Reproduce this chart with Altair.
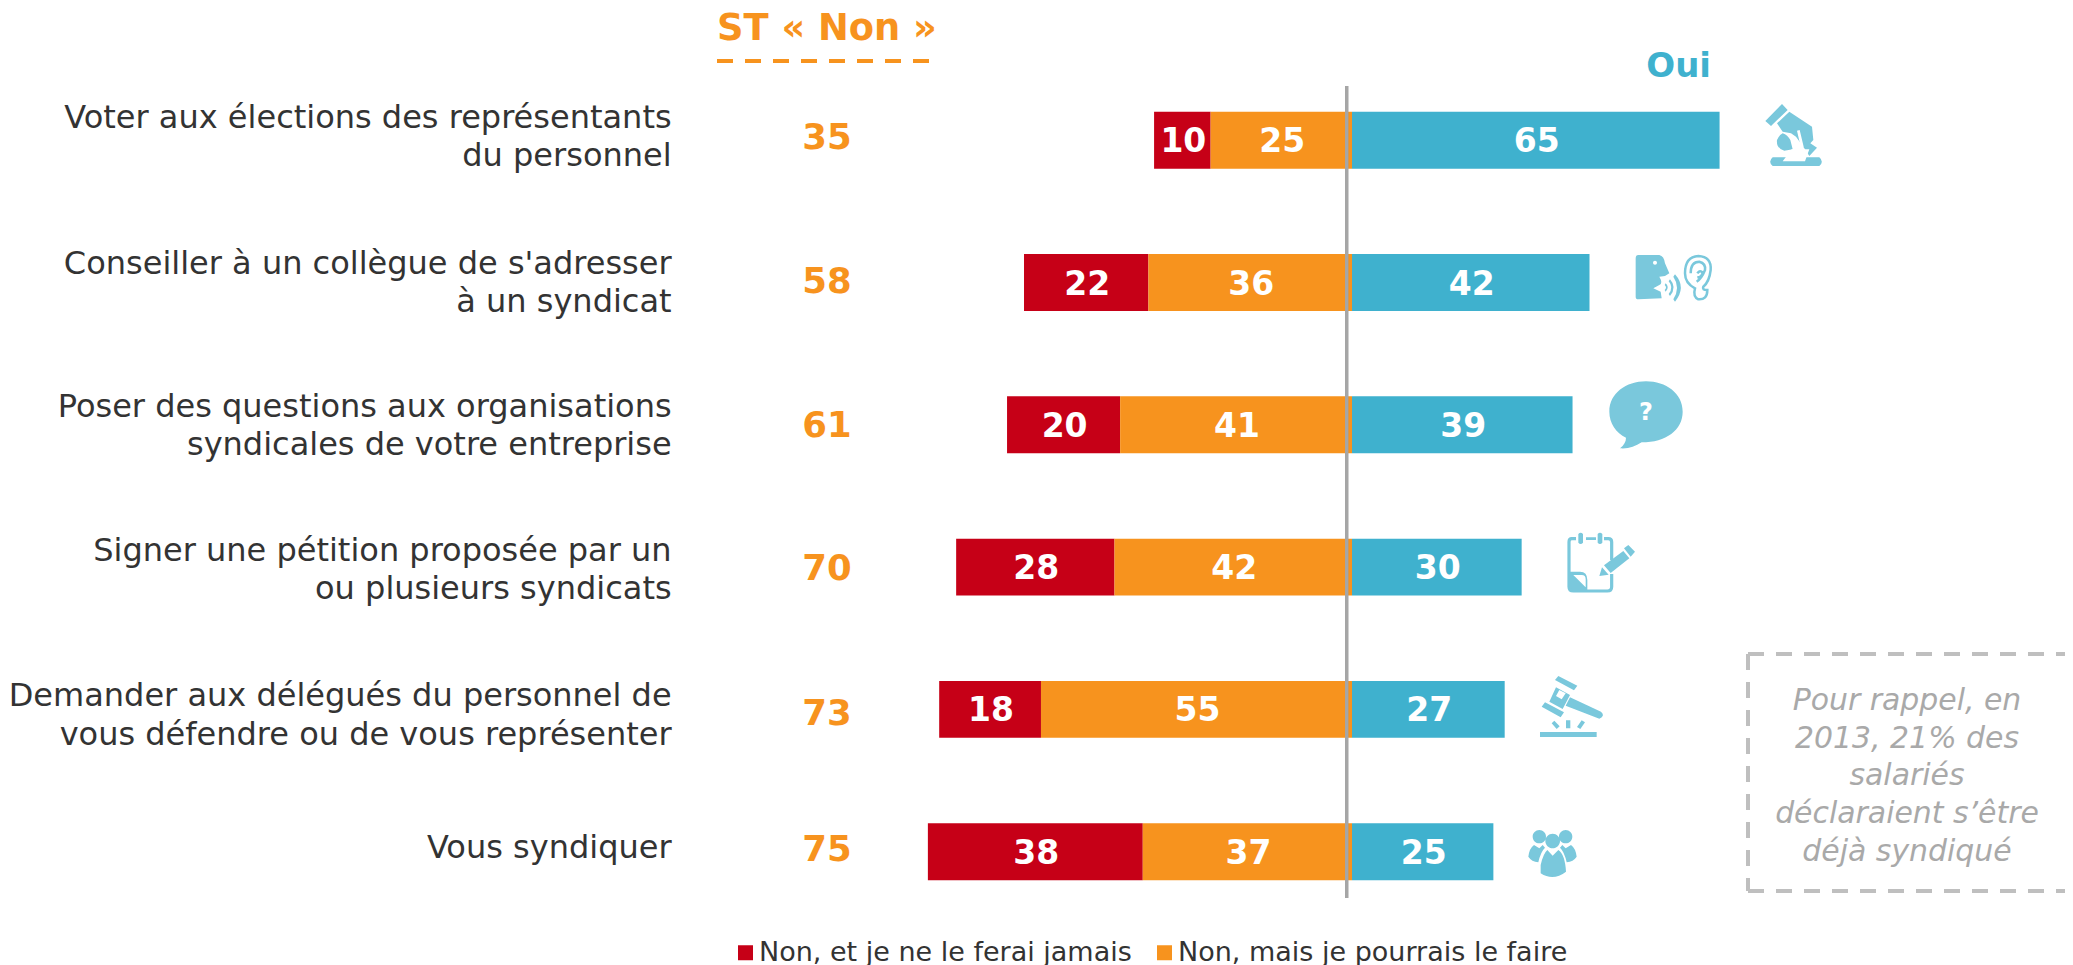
import re
import altair as alt
import pandas as pd

# ---------- data ----------
labels = [
    "Voter aux élections des représentants\ndu personnel",
    "Conseiller à un collègue de s'adresser\nà un syndicat",
    "Poser des questions aux organisations\nsyndicales de votre entreprise",
    "Signer une pétition proposée par un\nou plusieurs syndicats",
    "Demander aux délégués du personnel de\nvous défendre ou de vous représenter",
    "Vous syndiquer",
]
non_jamais = [10, 22, 20, 28, 18, 38]
non_pourrais = [25, 36, 41, 42, 55, 37]
oui = [65, 42, 39, 30, 27, 25]
st_non = [35, 58, 61, 70, 73, 75]
series_names = ["Non, et je ne le ferai jamais", "Non, mais je pourrais le faire", "Oui"]
note = ["Pour rappel, en", "2013, 21% des", "salariés", "déclaraient s’être", "déjà syndiqué"]

# ---------- style / layout ----------
RED, ORANGE, BLUE, ICON = "#C60017", "#F7931E", "#3FB1CE", "#7AC8DC"
GREY, TXT, BOXC, NOTEC = "#A6A6A6", "#333333", "#BFBFBF", "#A9A9A9"
FONT = "DejaVu Sans"
W, H = 2057, 957
X0, U = 1344.0, 5.655
RANGE_TOP, STEP = 61.05, 142.3
LABEL_DY = [-3.4, 0.3, 1.3, 2.8, 6.2, -3.3]
ST_DY = [-2, -1, 1, 2, 5, -2]
LINE_H = 38.5

rows = []
for i, lab in enumerate(labels):
    a, b, c = non_jamais[i], non_pourrais[i], oui[i]
    rows.append(dict(cat=lab, series=series_names[0], start=-(a + b), end=-b, value=a))
    rows.append(dict(cat=lab, series=series_names[1], start=-b, end=0, value=b))
    rows.append(dict(cat=lab, series=series_names[2], start=0, end=c, value=c))
long_df = pd.DataFrame(rows)
wide_df = pd.DataFrame(dict(cat=labels, oui=oui, st=st_non))

xs = alt.Scale(domain=[-X0 / U, (W - X0) / U])
X = lambda f: alt.X(f, scale=xs, axis=None)
Y = alt.Y("cat:N", axis=None, sort=None,
          scale=alt.Scale(type="band", domain=labels, range=[RANGE_TOP, RANGE_TOP + 6 * STEP],
                          paddingInner=0.6, paddingOuter=0.3))

layers = []

bars = alt.Chart(long_df).mark_bar().encode(
    x=X("start:Q"), x2="end:Q", y=Y,
    color=alt.Color("series:N", sort=None,
                    scale=alt.Scale(domain=series_names, range=[RED, ORANGE, BLUE]),
                    legend=alt.Legend(values=series_names[:2], orient="none", legendX=724, legendY=931,
                                      title=None, columns=2, columnPadding=19, symbolType="square",
                                      symbolSize=225, symbolStrokeWidth=0, labelFontSize=27, labelLimit=0,
                                      labelFont=FONT, labelColor=TXT, labelOffset=0, padding=0)),
)
layers.append(bars)

layers.append(alt.Chart(long_df).transform_calculate(mid="(datum.start+datum.end)/2").mark_text(
    font=FONT, fontWeight="bold", fontSize=33, color="white", baseline="middle", dy=2, dx=1).encode(
    x=X("mid:Q"), y=Y, text="value:Q"))

layers.append(alt.Chart(wide_df).mark_rule(color=GREY, strokeWidth=3).encode(
    x=alt.value(1338.6), y=alt.value(78), y2=alt.value(890)))

for i, lab in enumerate(labels):
    one = wide_df[wide_df.cat == lab]
    nlines = lab.count("\n") + 1
    layers.append(alt.Chart(one).transform_calculate(lines="split(datum.cat,'\\n')").mark_text(
        font=FONT, fontSize=32, color=TXT, align="right", baseline="middle", lineHeight=LINE_H,
        yOffset=LABEL_DY[i] - (nlines - 1) * LINE_H / 2).encode(x=alt.value(663.6), y=Y, text="lines:N"))
    layers.append(alt.Chart(one).mark_text(
        font=FONT, fontWeight="bold", fontSize=35.5, color=ORANGE, baseline="middle",
        yOffset=ST_DY[i]).encode(x=alt.value(819), y=Y, text="st:Q"))

head = pd.DataFrame(dict(t=["ST « Non »"]))
layers.append(alt.Chart(head).mark_text(font=FONT, fontWeight="bold", fontSize=36.8, color=ORANGE, align="left").encode(
    x=alt.value(709), y=alt.value(21), text="t:N"))
layers.append(alt.Chart(pd.DataFrame(dict(t=["Oui"]))).mark_text(font=FONT, fontWeight="bold", fontSize=34, color=BLUE, align="right").encode(
    x=alt.value(1703), y=alt.value(58.5), text="t:N"))
layers.append(alt.Chart(head).mark_rule(color=ORANGE, strokeWidth=4, strokeDash=[16, 12]).encode(
    x=alt.value(709), x2=alt.value(922), y=alt.value(53)))

# dashed note box (top, left, bottom)
for enc in (dict(x=alt.value(1740), x2=alt.value(2057), y=alt.value(646)),
            dict(x=alt.value(1740), y=alt.value(646), y2=alt.value(883)),
            dict(x=alt.value(1740), x2=alt.value(2057), y=alt.value(883))):
    layers.append(alt.Chart(head).mark_rule(color=BOXC, strokeWidth=4, strokeDash=[16, 12]).encode(**enc))
layers.append(alt.Chart(pd.DataFrame(dict(t=["\n".join(note)]))).transform_calculate(
    lines="split(datum.t,'\\n')").mark_text(
    font=FONT, fontStyle="italic", fontSize=29.9, color=NOTEC, align="center", baseline="alphabetic",
    lineHeight=37.7).encode(x=alt.value(1899), y=alt.value(702), text="lines:N"))

# ---------- pictograms (shapes in crop pixels, normalised for Vega's symbol box) ----------
def norm(p, cx, cy, half):
    def f(m):
        return f"{(float(m.group(1)) - cx) / half:.4f} {(float(m.group(2)) - cy) / half:.4f}"
    return re.sub(r"(-?\d+\.?\d*)[ ,]+(-?\d+\.?\d*)", f, p)

def circ(cx, cy, r):
    k = 0.5523 * r
    return (f"M{cx - r} {cy} C{cx - r} {cy - k} {cx - k} {cy - r} {cx} {cy - r} "
            f"C{cx + k} {cy - r} {cx + r} {cy - k} {cx + r} {cy} "
            f"C{cx + r} {cy + k} {cx + k} {cy + r} {cx} {cy + r} "
            f"C{cx - k} {cy + r} {cx - r} {cy + k} {cx - r} {cy} Z ")

ICONS = [
    dict(origin=(1741, 90), c=(165, 135), half=120,
         fill="M73 93 L123 42 L140 60 L90 108 Z M108 100 L145 65 L213 110 L217 150 L208 160 L228 173 L205 198 L190 175 L165 140 L150 130 L125 125 Z "
              "M108 150 Q115 135 125 130 Q140 135 148 150 L155 178 L130 182 Q105 175 108 150 Z "
              "M95 202 L235 202 Q250 215 235 228 L95 228 Q80 215 95 202 Z",
         white="M152 178 L205 178 L192 214 L125 214 Z M168 122 L176 120 L188 170 L180 175 Z"),
    dict(origin=(1620, 240), c=(165, 115), half=130,
         fill="M55 45 L118 45 Q132 48 135 70 L148 100 L135 108 L118 110 Q130 130 118 135 L100 145 L122 155 L125 175 L55 178 Q47 178 47 170 L47 55 Q47 45 55 45 Z "
              "M137 130 Q150 142 137 155 L134 150 Q142 142 134 135 Z M150 118 Q172 142 150 168 L146 162 Q162 142 146 124 Z "
              "M165 103 Q200 142 165 185 L160 178 Q182 142 160 110 Z",
         white=circ(105, 68, 6),
         stroke="M195 100 Q195 50 235 48 Q275 50 272 90 Q268 125 250 140 Q245 150 262 150 Q262 180 235 178 Q218 170 225 145 Q195 130 195 100 "
                "M212 100 Q212 65 238 65 Q258 70 255 90 Q245 115 230 125 M232 100 Q240 88 248 98 Q245 112 232 112", sw=2.5),
    dict(origin=(1500, 340), c=(438, 225), half=125,
         fill="M328 215 C328 160 378 124 438 124 C498 124 548 160 548 215 C548 270 498 307 425 307 C405 320 385 327 360 325 C372 315 378 305 378 293 C348 278 328 250 328 215 Z"),
    dict(origin=(1500, 340), c=(303, 665), half=110,
         fill="M207 695 L240 695 Q262 695 262 720 L262 753 L220 753 Q207 753 207 740 Z "
              "M235 582 Q242 574 249 582 L249 608 Q242 616 235 608 Z M293 582 Q300 574 307 582 L307 608 Q300 616 293 608 Z "
              "M258 592 L288 592 L288 600 L258 600 Z "
              "M312 676 L370 633 L388 655 L332 699 Z M372 625 L385 615 L405 635 L392 650 Z M306 682 L326 704 L298 708 Z",
         white="M220 705 L245 705 Q257 705 257 718 L257 742 Z",
         stroke="M228 596 L215 596 Q207 596 207 606 L207 740 Q207 753 220 753 L322 753 Q335 753 335 740 L335 702 "
                "M335 660 L335 606 Q335 596 325 596 L312 596", sw=3.2),
    dict(origin=(1520, 665), c=(155, 125), half=105,
         fill="M105 45 L115 33 L172 62 L162 76 Z M65 125 L75 112 L132 142 L122 157 Z M108 67 L150 90 L128 132 L88 110 Z "
              "M150 97 L243 140 Q257 152 238 161 L137 122 Z M95 175 L103 167 L119 184 L110 192 Z M138 166 L151 166 L151 190 L138 190 Z "
              "M171 186 L185 166 L195 172 L181 192 Z M60 201 L230 201 L230 216 L60 216 Z",
         white="M118 75 L137 85 L125 103 L108 93 Z"),
    dict(origin=(1510, 815), c=(128, 110), half=90,
         fill=circ(128, 78, 22) + circ(88, 65, 20) + circ(167, 65, 20) +
              "M92 150 Q100 115 112 105 L128 122 L145 105 Q165 118 168 170 Q130 200 92 175 Z "
              "M55 125 Q58 100 72 90 L88 100 L98 90 L105 98 Q92 110 85 142 Q65 140 55 125 Z "
              "M200 125 Q197 100 183 90 L167 100 L157 90 L150 98 Q163 110 170 142 Q190 140 200 125 Z"),
]

for i, ic in enumerate(ICONS):
    ox = ic["origin"][0] + ic["c"][0] / 3
    oy = ic["origin"][1] + ic["c"][1] / 3
    bar_end = 8 + X0 + oui[i] * U
    bar_mid = 8 + RANGE_TOP + STEP * (i + 0.5)
    off = dict(xOffset=ox - bar_end, yOffset=oy - bar_mid)
    size = (2 * ic["half"] / 3) ** 2
    one = wide_df[wide_df.cat == labels[i]]
    enc = dict(x=X("oui:Q"), y=Y)
    n = lambda p: norm(p, ic["c"][0], ic["c"][1], ic["half"])
    layers.append(alt.Chart(one).mark_point(shape=n(ic["fill"]), filled=True, color=ICON, opacity=1, size=size, **off).encode(**enc))
    if "stroke" in ic:
        layers.append(alt.Chart(one).mark_point(shape=n(ic["stroke"]), filled=False, color=ICON, opacity=1, size=size,
                                                strokeWidth=ic["sw"], **off).encode(**enc))
    if "white" in ic:
        layers.append(alt.Chart(one).mark_point(shape=n(ic["white"]), filled=True, color="white", opacity=1, size=size, **off).encode(**enc))

# the question mark in the speech bubble
layers.append(alt.Chart(wide_df[wide_df.cat == labels[2]]).transform_calculate(q="'?'").mark_text(
    font=FONT, fontWeight="bold", fontSize=24, color="white", baseline="middle",
    xOffset=1646 - (8 + X0 + oui[2] * U), yOffset=413 - (8 + RANGE_TOP + STEP * 2.5)).encode(
    x=X("oui:Q"), y=Y, text="q:N"))

chart = alt.layer(*layers).properties(
    width=W, height=H, padding=0, autosize=alt.AutoSizeParams(type="none"),
).configure_view(stroke=None)

chart.save("out.html", embed_options={"renderer": "svg", "actions": False})
